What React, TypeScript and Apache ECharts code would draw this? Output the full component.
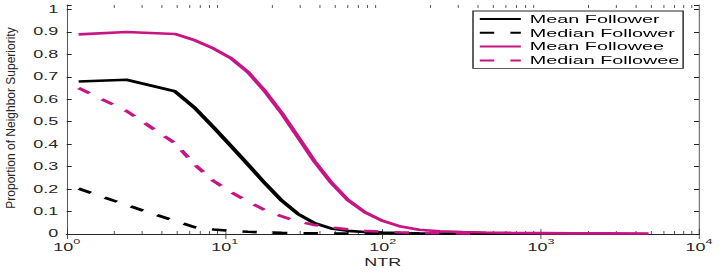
import React, { useEffect, useRef } from "react";
import * as echarts from "echarts";

// ---- data ----
const ntr = [1.19, 2.39, 4.83, 6.5, 8.5, 11, 14, 18, 23, 29, 37, 47, 60, 77, 100, 130, 170, 230, 320, 450, 650, 1000, 1600, 2600, 4800];
const meanFollower = [0.679, 0.687, 0.636, 0.56, 0.475, 0.39, 0.31, 0.225, 0.148, 0.09, 0.048, 0.025, 0.014, 0.009, 0.006, 0.004, 0.003, 0.002, 0.002, 0.001, 0.001, 0.001, null, null, null];
const medianFollower = [0.202, 0.129, 0.058, 0.03, 0.02, 0.014, 0.01, 0.007, 0.005, 0.004, 0.003, 0.002, 0.002, 0.001, 0.001, 0.001, 0.001, 0.001, 0.001, 0.001, 0.001, 0.001, null, null, null];
const meanFollowee = [0.889, 0.9, 0.891, 0.862, 0.826, 0.782, 0.722, 0.635, 0.537, 0.433, 0.323, 0.23, 0.152, 0.097, 0.058, 0.033, 0.019, 0.012, 0.009, 0.007, 0.005, 0.004, 0.003, 0.003, 0.002];
const medianFollowee = [0.65, 0.548, 0.405, 0.307, 0.236, 0.186, 0.145, 0.106, 0.078, 0.056, 0.04, 0.029, 0.021, 0.014, 0.01, 0.007, 0.005, 0.004, 0.003, 0.002, null, null, null, null, null];
const seriesNames = ["Mean Follower", "Median Follower", "Mean Followee", "Median Followee"];
const seriesValues = [meanFollower, medianFollower, meanFollowee, medianFollowee];
const minorTicks = [2, 3, 4, 5, 6, 7, 8, 9, 20, 30, 40, 50, 60, 70, 80, 90, 200, 300, 400, 500, 600, 700, 800, 900, 2000, 3000, 4000, 5000, 6000, 7000, 8000, 9000];
const xAxisName = "NTR";
const yAxisName = "Proportion of Neighbor Superiority";

// ---- layout / style ----
const W = 727;
const H = 273;
const S = 1.8; // horizontal stretch of the reference
const W0 = W / S;
const PINK = "#C71585";
const BLACK = "#000000";
const AXIS = "#262626";
const FONT = "'Liberation Sans', Arial, Helvetica, sans-serif";
const Y_MAX = 1.02;

const colors = [BLACK, BLACK, PINK, PINK];
const dashed = [false, true, false, true];

function pairs(vals: (number | null)[]) {
  const out: number[][] = [];
  ntr.forEach((x, i) => {
    const v = vals[i];
    if (v !== null && v !== undefined) out.push([x, v]);
  });
  return out;
}

function buildOption() {
  const lineSeries = seriesNames.map((name, i) => ({
    name,
    type: "line",
    data: pairs(seriesValues[i]),
    symbol: "none",
    showSymbol: false,
    xAxisIndex: 0,
    yAxisIndex: 0,
    z: 3,
    lineStyle: {
      color: colors[i],
      width: 2.6,
      type: dashed[i] ? [8, 9] : "solid",
    },
    itemStyle: { color: colors[i] },
  }));

  const minorSeries = {
    type: "custom",
    xAxisIndex: 0,
    yAxisIndex: 0,
    silent: true,
    clip: false,
    z: 2,
    data: minorTicks.map((v) => [v, 0]),
    encode: { x: 0, y: 1 },
    renderItem: (params: any, api: any) => {
      const v = api.value(0);
      const b = api.coord([v, 0]);
      const t = api.coord([v, Y_MAX]);
      const st = { stroke: AXIS, lineWidth: 1 / S };
      return {
        type: "group",
        children: [
          { type: "line", shape: { x1: b[0], y1: b[1], x2: b[0], y2: b[1] - 3 }, style: st },
          { type: "line", shape: { x1: t[0], y1: t[1], x2: t[0], y2: t[1] + 3 }, style: st },
        ],
      };
    },
  };

  const xBase = {
    type: "log",
    logBase: 10,
    min: 1,
    max: 10000,
    splitNumber: 4,
    splitLine: { show: false },
    minorTick: { show: false },
    axisLine: { show: true, lineStyle: { color: AXIS, width: 1 } },
    axisTick: { show: true, inside: true, length: 5, lineStyle: { color: AXIS, width: 1 / S } },
  };
  const yBase = {
    type: "value",
    min: 0,
    max: Y_MAX,
    interval: 0.1,
    splitLine: { show: false },
    axisLine: { show: true, lineStyle: { color: AXIS, width: 1 / S } },
    axisTick: { show: true, inside: true, length: 5 / S, lineStyle: { color: AXIS, width: 1 } },
  };

  return {
    animation: false,
    backgroundColor: "#fff",
    textStyle: { fontFamily: FONT },
    grid: { left: 66.7 / S, right: W0 - 699 / S, top: 5, bottom: H - 238.9, containLabel: false },
    legend: {
      orient: "vertical",
      left: 473 / S,
      top: 11,
      data: seriesNames.map((n) => ({ name: n, itemStyle: { opacity: 0 } })),
      itemWidth: 22.8,
      itemHeight: 10,
      itemGap: 1.8,
      padding: [2, 2, 2, 5 / S],
      backgroundColor: "#fff",
      borderColor: AXIS,
      borderWidth: 0.8,
      selectedMode: false,
      itemStyle: { opacity: 0 },
      textStyle: { fontFamily: FONT, fontSize: 11, color: "#000", lineHeight: 12 },
    },
    xAxis: [
      {
        ...xBase,
        position: "bottom",
        name: xAxisName,
        nameLocation: "middle",
        nameGap: 24,
        nameTextStyle: { fontFamily: FONT, fontSize: 10, color: AXIS },
        axisLabel: {
          show: true,
          margin: 4,
          color: AXIS,
          formatter: (v: number) => `{b|10}{s|${Math.round(Math.log10(v))}}`,
          rich: {
            b: { fontFamily: FONT, fontSize: 10, color: AXIS, lineHeight: 15, verticalAlign: "bottom" },
            s: { fontFamily: FONT, fontSize: 7, color: AXIS, lineHeight: 8, verticalAlign: "top" },
          },
        },
      },
      { ...xBase, position: "top", axisLabel: { show: false } },
    ],
    yAxis: [
      {
        ...yBase,
        position: "left",
        axisLabel: {
          show: true,
          margin: 8.4 / S,
          color: AXIS,
          fontFamily: FONT,
          fontSize: 10,
          formatter: (v: number) => {
            const r = Math.round(v * 10);
            if (Math.abs(v * 10 - r) > 1e-6) return "";
            return String(r / 10);
          },
        },
      },
      { ...yBase, position: "right", axisLabel: { show: false } },
    ],
    graphic: [
      {
        type: "text",
        x: 11 / S,
        y: 118,
        rotation: Math.PI / 2,
        scaleY: 1.1 / S,
        style: {
          text: yAxisName,
          fontFamily: FONT,
          fontSize: 12,
          fill: AXIS,
          align: "center",
          verticalAlign: "middle",
        },
      },
    ],
    series: [...lineSeries, minorSeries],
  };
}

export default function App() {
  const ref = useRef<HTMLDivElement>(null);
  useEffect(() => {
    if (!ref.current) return;
    const chart = echarts.init(ref.current, null, { renderer: "svg", width: W0, height: H });
    chart.setOption(buildOption() as any);
    return () => chart.dispose();
  }, []);
  return (
    <div style={{ position: "absolute", left: 0, top: 0, width: W, height: H, overflow: "hidden", background: "#fff" }}>
      <div ref={ref} style={{ width: W0, height: H, transform: `scaleX(${S})`, transformOrigin: "0 0" }} />
    </div>
  );
}
